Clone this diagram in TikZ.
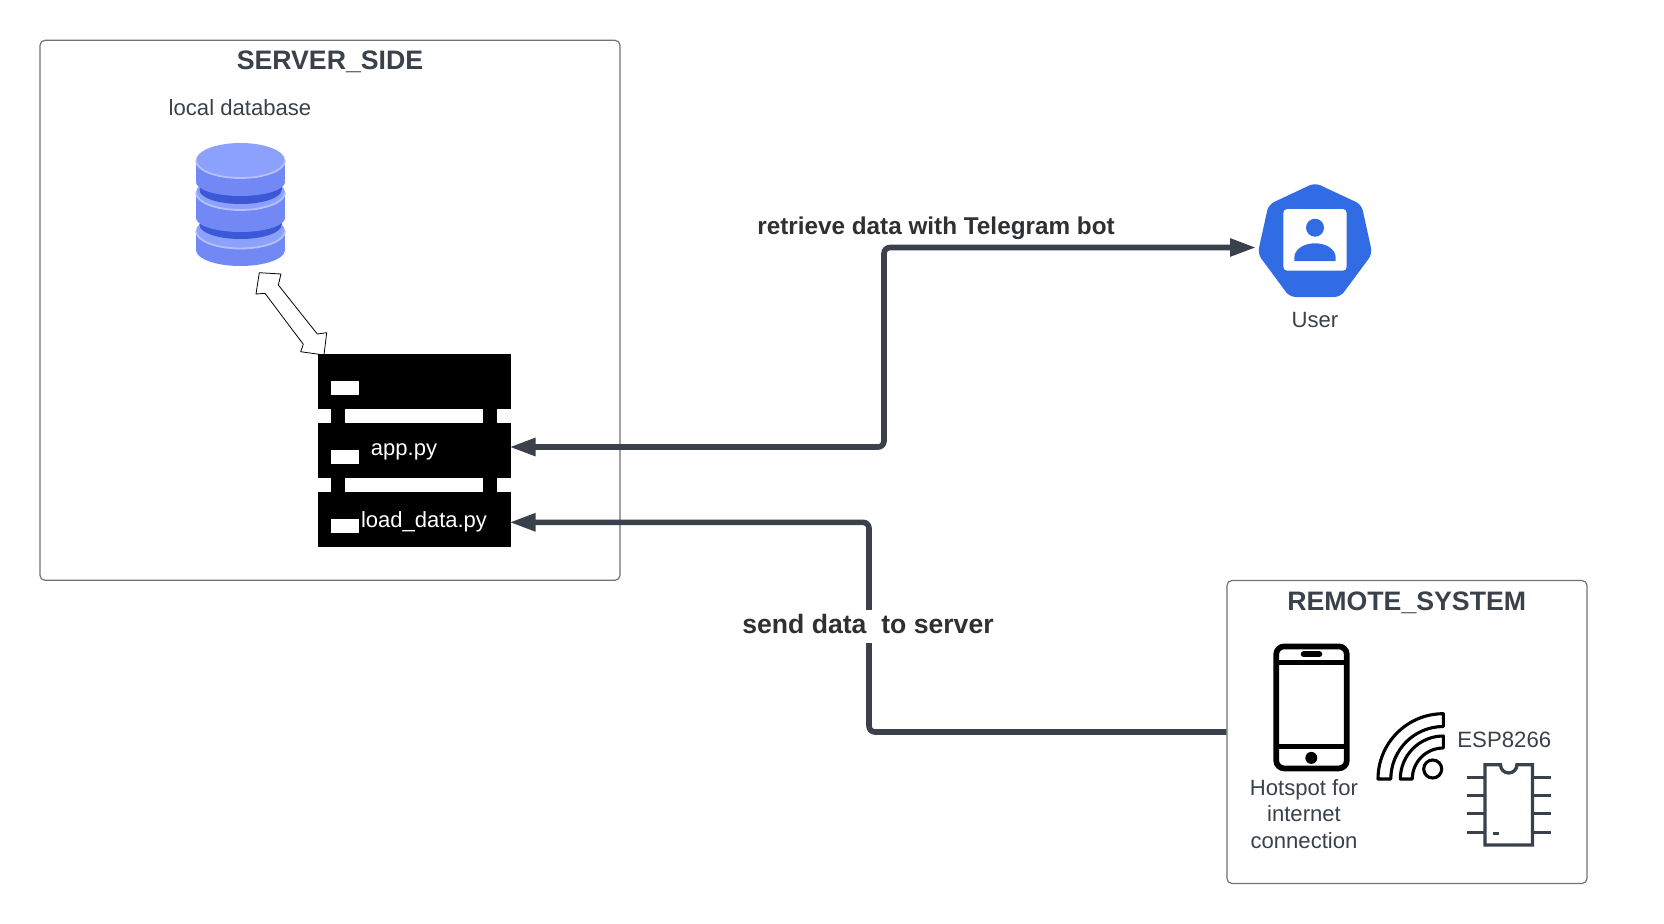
\documentclass[tikz,border=0pt]{standalone}
\usepackage{fontspec}
\setmainfont{Liberation Sans}
\usetikzlibrary{arrows.meta}
\definecolor{ink}{HTML}{3A414A}
\definecolor{labelink}{HTML}{2E3033}
\definecolor{frame}{HTML}{6F7378}
\definecolor{dbside}{HTML}{7289F5}
\definecolor{dbtop}{HTML}{8CA1FB}
\definecolor{dbarc}{HTML}{B4C1FB}
\definecolor{dbdark}{HTML}{3B58D6}
\definecolor{kube}{HTML}{326CE5}
\tikzset{
  box/.style={draw=frame,line width=1.2bp,rounded corners=5bp,fill=white,inner sep=0pt},
  boxtitle/.style={text=ink,inner sep=0pt,font=\bfseries\fontsize{26.7bp}{30bp}\selectfont},
  small/.style={text=ink,inner sep=0pt,font=\fontsize{22.1bp}{26.5bp}\selectfont,align=center},
  onbar/.style={text=white,inner sep=0pt,font=\fontsize{22bp}{26bp}\selectfont},
  linklabel/.style={text=labelink,inner sep=0pt,font=\bfseries\fontsize{24.3bp}{28bp}\selectfont},
  bar/.style={fill=black,inner sep=0pt,minimum width=193bp,minimum height=55bp},
  slot/.style={fill=white,inner sep=0pt,minimum width=28bp,minimum height=13.6bp},
  link/.style={draw=ink,line width=5.6bp,rounded corners=6bp},
  tip/.tip={Triangle[length=26bp,width=17bp]},
  wave/.style={draw=black,fill=white,line width=3.1bp,line join=round},
  chipline/.style={draw=ink,line width=3.3bp}
}
% #1 top centre, #2 bottom centre, #3 bottom radius
\newcommand{\dbdisc}[3]{%
  \fill[dbside] (196,#1) rectangle (285,#2);
  \fill[dbside] (240.5,#2) ellipse[x radius=44.5,y radius=#3];
  \fill[dbtop] (240.5,#1) ellipse[x radius=44.5,y radius=17.5];
  \draw[dbarc,line width=1.8bp] (196,#1) arc[start angle=180,end angle=0,x radius=44.5,y radius=17.5];
}
\newcommand{\dbband}[2]{%
  \fill[dbdark] (199.5,#1) rectangle (281.5,#2);
  \fill[dbdark] (240.5,#2) ellipse[x radius=41,y radius=14];
}
\begin{document}
\begin{tikzpicture}[x=1bp,y=1bp,yscale=-1]
\useasboundingbox (0,0) rectangle (1664,923);
\fill[white] (0,0) rectangle (1664,923);

% containers
\node[box,minimum width=580bp,minimum height=540bp] (server) at (330,310.3) {};
\node[box,minimum width=360bp,minimum height=303bp] (remote) at (1407,732) {};
\node[boxtitle] (servertitle) at (330,62.2) {SERVER\_SIDE};
\node[boxtitle] (remotetitle) at (1406.7,602.3) {REMOTE\_SYSTEM};

% database
\node[small] (dblabel) at (240,107.5) {local database};
\dbdisc{231}{250}{16}
\dbband{213}{225}
\dbdisc{192.5}{218}{14}
\dbband{178}{190}
\dbdisc{160.5}{182}{14}

% double arrow between database and server
\draw[black,fill=white,line width=0.8bp,line join=round]
  (259.3,272.7) -- (281,274) -- (278.3,285) -- (317.3,334) -- (326.7,332.7)
  -- (324,355) -- (300.7,351.7) -- (303.3,344.3) -- (265,293.3) -- (256,294) -- cycle;

% server stack
\fill[black] (331,400) rectangle (345,500);
\fill[black] (483,400) rectangle (497,500);
\node[bar] (barone) at (414.2,381) {};
\node[bar] (baretwo) at (414.2,450) {};
\node[bar] (barthree) at (414.2,519.2) {};
\node[slot] (slotone) at (345,387.8) {};
\node[slot] (slottwo) at (345,457.2) {};
\node[slot] (slotthree) at (345,525.9) {};
\node[onbar] (apptext) at (404,452) {app.py};
\node[onbar] (loadtext) at (424,522) {load\_data.py};

% user icon
\fill[kube,rounded corners=6bp] (1315,182.8) -- (1361.5,204.6) -- (1372.3,253.8) -- (1340.3,297) -- (1289.7,297) -- (1257.7,253.8) -- (1268.5,204.6) -- cycle;
\fill[white,rounded corners=4bp] (1283.3,209) rectangle (1346.7,270.7);
\fill[kube] (1315,227.7) circle[radius=9];
\fill[kube] (1294.3,261) -- (1294.3,258) .. controls (1294.3,249) and (1304,243.3) .. (1315,243.3) .. controls (1326,243.3) and (1335.7,249) .. (1335.7,258) -- (1335.7,261) -- cycle;
\node[small] (userlabel) at (1315,320) {User};

% connectors
\coordinate (userpt) at (1256,247.5);
\coordinate (apppt) at (509.5,447);
\coordinate (loadpt) at (509.5,522.3);
\coordinate (remotept) at (remote.west |- 0,732);
\draw[link,{tip}-{tip}] (userpt) -- (884,247.5) -- (884,447) -- (apppt);
\draw[link,-{tip}] (remotept) -- (869,732) -- (869,522.3) -- (loadpt);
\node[linklabel] (retrievelabel) at (936,228.2) {retrieve data with Telegram bot};
\fill[white] (860,610) rectangle (878,642.5);
\node[linklabel,font=\bfseries\fontsize{26.6bp}{28bp}\selectfont] (sendlabel) at (868,623.5) {send data\ \ to server};

% phone
\draw[black,line width=5.7bp,rounded corners=8bp,fill=white] (1276.2,646.4) rectangle (1346.8,768.4);
\draw[black,line width=5bp] (1276.2,662.9) -- (1346.8,662.9);
\draw[black,line width=5bp] (1276.2,746.2) -- (1346.8,746.2);
\draw[black,line width=6bp,line cap=round] (1303.7,654.2) -- (1319.3,654.2);
\fill[black] (1311.3,757.9) circle[radius=6];
\node[small] (hotspotlabel) at (1304,814) {Hotspot for\\internet\\connection};

% signal
\draw[wave] (1378,779) arc[start angle=180,end angle=270,radius=65.3] -- (1443.3,726.5) arc[start angle=270,end angle=180,radius=52.5] -- cycle;
\draw[wave] (1400.3,779) arc[start angle=180,end angle=270,radius=43] -- (1443.3,748) arc[start angle=270,end angle=180,radius=31] -- cycle;
\draw[draw=black,fill=white,line width=3.1bp] (1432.7,769) circle[radius=9];

% chip
\node[small,font=\fontsize{22.2bp}{24bp}\selectfont] (esplabel) at (1504.3,740) {ESP8266};
\draw[chipline,fill=white] (1485,764.8) -- (1500.5,764.8) arc[start angle=180,end angle=0,radius=8.2] -- (1532.5,764.8) -- (1532.5,845) -- (1485,845) -- cycle;
\foreach \py in {777.2,795.5,813.8,832.5} {
  \draw[chipline] (1466.7,\py) -- (1483.5,\py);
  \draw[chipline] (1534,\py) -- (1550.7,\py);
}
\fill[ink] (1493.3,831.5) rectangle (1499,835.2);
\end{tikzpicture}
\end{document}
